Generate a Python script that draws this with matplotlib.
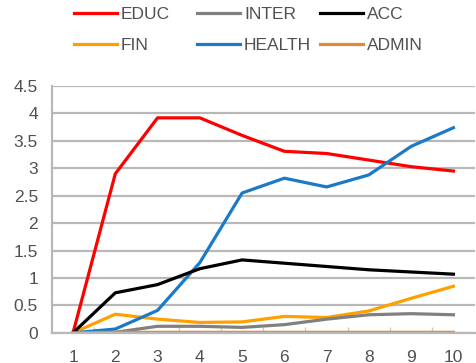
import matplotlib.pyplot as plt

plt.rcParams['font.family'] = ['Liberation Sans', 'DejaVu Sans']

x = [1, 2, 3, 4, 5, 6, 7, 8, 9, 10]
educ = [0, 2.9, 3.92, 3.92, 3.6, 3.31, 3.27, 3.15, 3.03, 2.95]
inter = [0, 0.01, 0.12, 0.12, 0.1, 0.15, 0.25, 0.33, 0.35, 0.33]
acc = [0, 0.73, 0.88, 1.17, 1.33, 1.27, 1.21, 1.15, 1.11, 1.07]
fin = [0, 0.34, 0.25, 0.19, 0.2, 0.3, 0.28, 0.4, 0.63, 0.85]
health = [0, 0.07, 0.41, 1.28, 2.55, 2.82, 2.66, 2.88, 3.4, 3.74]
admin = [0, 0.01, 0.01, 0.01, 0.01, 0.01, 0.01, 0.01, 0.01, 0.01]

fig = plt.figure(figsize=(4.76, 3.63), dpi=100)
ax = fig.add_axes([0.109, 0.083, 0.888, 0.68])

lw = 2.3
h_educ, = ax.plot(x, educ, color="#ff0000", lw=lw, label="EDUC")
h_fin, = ax.plot(x, fin, color="#ffa000", lw=lw, label="FIN")
h_inter, = ax.plot(x, inter, color="#808080", lw=lw, label="INTER")
h_health, = ax.plot(x, health, color="#1a7ac8", lw=lw, label="HEALTH")
h_acc, = ax.plot(x, acc, color="#000000", lw=lw, label="ACC")
h_admin, = ax.plot(x, admin, color="#e08a3a", lw=lw, label="ADMIN")

ax.set_xlim(0.5, 10.5)
ax.set_ylim(0, 4.5)
ax.set_xticks(x)
ax.set_xticks([i + 0.5 for i in x[:-1]], minor=True)
ax.set_yticks([0, 0.5, 1, 1.5, 2, 2.5, 3, 3.5, 4, 4.5])
ax.set_yticklabels(["0", "0.5", "1", "1.5", "2", "2.5", "3", "3.5", "4", "4.5"])
ax.yaxis.grid(True, color="#b8b8b8", lw=1.6)
ax.set_axisbelow(True)
for s in ["top", "right"]:
    ax.spines[s].set_visible(False)
ax.spines["left"].set_color("#b8b8b8")
ax.spines["bottom"].set_color("#b8b8b8")
ax.spines["left"].set_linewidth(1.6)
ax.spines["bottom"].set_linewidth(1.6)
ax.tick_params(axis="y", length=0, labelsize=12.5, colors="#505050", pad=10)
ax.tick_params(axis="x", which="major", length=0, labelsize=12.5, colors="#505050", pad=12)
ax.tick_params(axis="x", which="minor", direction="in", length=4, width=1, color="#c8c8c8")

# legend: three fixed-width columns like the original
cols = [([h_educ, h_fin], 74), ([h_inter, h_health], 197), ([h_acc, h_admin], 320)]
for handles, px in cols:
    fig.legend(handles=handles, loc="center left", bbox_to_anchor=(px / 476, 1 - 30 / 363),
               frameon=False, fontsize=12.5, handlelength=2.45, handletextpad=0.25,
               labelspacing=0.95, borderpad=0, borderaxespad=0, labelcolor="#505050")

fig.savefig("out.png")
